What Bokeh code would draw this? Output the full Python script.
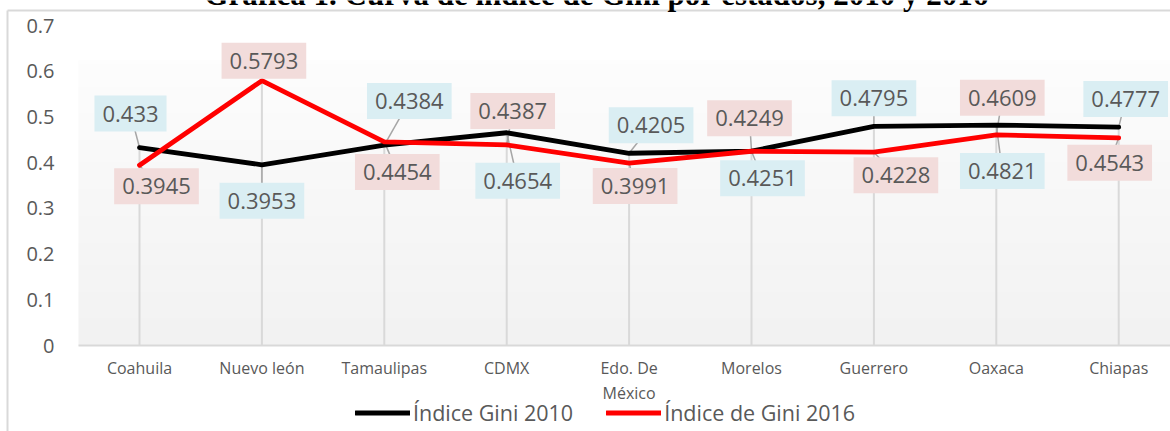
import numpy as np
from bokeh.plotting import figure
from bokeh.models import (Range1d, FixedTicker, NumeralTickFormatter, Legend, LegendItem,
                          Label, ColumnDataSource)
from bokeh.core.properties import value
from bokeh.embed import file_html
from bokeh.resources import INLINE

# ---------------- data ----------------
states = ["Coahuila", "Nuevo león", "Tamaulipas", "CDMX", "Edo. De\nMéxico",
          "Morelos", "Guerrero", "Oaxaca", "Chiapas"]
gini_2010 = [0.433, 0.3953, 0.4384, 0.4654, 0.4205, 0.4251, 0.4795, 0.4821, 0.4777]
gini_2016 = [0.3945, 0.5793, 0.4454, 0.4387, 0.3991, 0.4249, 0.4228, 0.4609, 0.4543]
y_ticks = [0, 0.1, 0.2, 0.3, 0.4, 0.5, 0.6, 0.7]
series_names = ["Índice Gini 2010", "Índice de Gini 2016"]
title_text = "Gráfica 1. Curva de índice de Gini por estados, 2010 y 2016"

# ---------------- layout (pixel offsets of data labels from their points) ----------------
off_2010 = [(-9, -34), (0, 36), (25, -44), (11, 48), (22, -28), (11, 27), (0, -28), (6, 46), (7, -28)]
off_2016 = [(17, 21), (2, -20), (13, 30), (6, -34), (6, 23), (-2, -33), (22, 23), (6, -37), (-9, 25)]

W, H = 1170, 431
PX0 = 139            # canvas x of first category
STEP = 122.4         # px between categories
X_AX = 345           # canvas y of value 0
PXY = 320 / 0.7      # px per unit of y
PLOT_LEFT_PX = 78
PLOT_TOP_PX = 60


def dx(px):
    return (px - PX0) / STEP


def dy(py):
    return (X_AX - py) / PXY


x_start, x_end = dx(0), dx(W)
y_start, y_end = dy(H), dy(0)
plot_left = dx(PLOT_LEFT_PX)

GREY_TXT = "#595959"
FONT = "Open Sans"

idx = list(range(len(states)))

p = figure(width=W, height=H, x_range=Range1d(x_start, x_end), y_range=Range1d(y_start, y_end),
           output_backend="svg", toolbar_location=None,
           min_border_left=0, min_border_right=0, min_border_top=0, min_border_bottom=0,
           background_fill_color="white", border_fill_color="white", outline_line_color=None)
p.styles = {"position": "absolute", "left": "0px", "top": "0px"}

# chart border (left and top edges of the chart box)
p.segment(x0=[dx(7), dx(7)], y0=[dy(10), dy(10)], x1=[dx(7), dx(W + 10)], y1=[dy(H + 10), dy(10)],
          line_color="#d9d9d9", line_width=2)

# plot-area gradient (white-ish top to light grey bottom)
n = 64
grad_top = dy(PLOT_TOP_PX)
t = np.linspace(0, 1, n)
img = np.empty((n, 1), dtype=np.uint32)
view = img.view(dtype=np.uint8).reshape((n, 1, 4))
c = (242 + (253 - 242) * t).astype(np.uint8)
view[:, 0, 0] = c
view[:, 0, 1] = c
view[:, 0, 2] = c
view[:, 0, 3] = 255
p.image_rgba(image=[img], x=plot_left, y=0, dw=x_end - plot_left, dh=grad_top)

# drop lines
top_vals = [max(a, b) for a, b in zip(gini_2010, gini_2016)]
p.segment(x0=idx, y0=[0] * len(idx), x1=idx, y1=top_vals, line_color="#d9d9d9", line_width=2)


# label positions
def label_pos(vals, offs):
    lx = [i + ox / STEP for i, (ox, oy) in zip(idx, offs)]
    ly = [v - oy / PXY for v, (ox, oy) in zip(vals, offs)]
    return lx, ly


lx10, ly10 = label_pos(gini_2010, off_2010)
lx16, ly16 = label_pos(gini_2016, off_2016)

# leader lines
p.segment(x0=idx, y0=gini_2010, x1=lx10, y1=ly10, line_color="#a6a6a6", line_width=1.5)
p.segment(x0=idx, y0=gini_2016, x1=lx16, y1=ly16, line_color="#a6a6a6", line_width=1.5)

# series lines
r1 = p.line(idx, gini_2010, line_color="black", line_width=4.8, line_join="round", line_cap="round")
r2 = p.line(idx, gini_2016, line_color="#ff0000", line_width=4.8, line_join="round", line_cap="round")

# data labels
src10 = ColumnDataSource(dict(x=lx10, y=ly10, t=[f"{v:g}" for v in gini_2010]))
src16 = ColumnDataSource(dict(x=lx16, y=ly16, t=[f"{v:g}" for v in gini_2016]))
for src, bg in ((src10, "#daeef3"), (src16, "#f2dcdb")):
    p.text(x="x", y="y", text="t", source=src, text_align="center", text_baseline="middle",
           text_font=value(FONT), text_font_size="22px", text_color=GREY_TXT,
           background_fill_color=bg, padding=(8, 10))

# axes (drawn inside the canvas at fixed positions)
p.xgrid.visible = False
p.ygrid.visible = False
p.yaxis.fixed_location = plot_left
p.yaxis.ticker = FixedTicker(ticks=y_ticks)
p.yaxis.formatter = NumeralTickFormatter(format="0.[0]")
p.yaxis.axis_line_color = None
p.yaxis.major_tick_line_color = None
p.yaxis.minor_tick_line_color = None
p.yaxis.major_tick_out = 0
p.yaxis.major_tick_in = 0
p.yaxis.major_label_standoff = 24
p.yaxis.major_label_text_font = FONT
p.yaxis.major_label_text_font_size = "20px"
p.yaxis.major_label_text_color = GREY_TXT

p.xaxis.fixed_location = 0
p.xaxis.bounds = (plot_left, x_end)
p.xaxis.ticker = FixedTicker(ticks=idx)
p.xaxis.major_label_overrides = {i: s for i, s in zip(idx, states)}
p.xaxis.axis_line_color = "#d9d9d9"
p.xaxis.axis_line_width = 2
p.xaxis.major_tick_line_color = None
p.xaxis.minor_tick_line_color = None
p.xaxis.major_tick_out = 0
p.xaxis.major_tick_in = 0
p.xaxis.major_label_standoff = 11
p.xaxis.major_label_text_font = FONT
p.xaxis.major_label_text_font_size = "16px"
p.xaxis.major_label_text_color = GREY_TXT
p.xaxis.major_label_text_line_height = 1.16

# legend
legend = Legend(items=[LegendItem(label=series_names[0], renderers=[r1]),
                       LegendItem(label=series_names[1], renderers=[r2])],
                orientation="horizontal", location=(355, 4),
                glyph_width=55, glyph_height=27, label_height=27, label_standoff=3, spacing=33,
                padding=0, margin=0, border_line_alpha=0, background_fill_alpha=0,
                label_text_font=FONT, label_text_font_size="21.5px", label_text_color=GREY_TXT)
p.add_layout(legend)

# (cut-off) title
p.add_layout(Label(x=dx(596), y=dy(-6), text=title_text,
                   text_align="center", text_baseline="alphabetic",
                   text_font="Liberation Serif", text_font_style="bold",
                   text_font_size="31px", text_color="black"))

open("out.html", "w").write(file_html(p, INLINE))
